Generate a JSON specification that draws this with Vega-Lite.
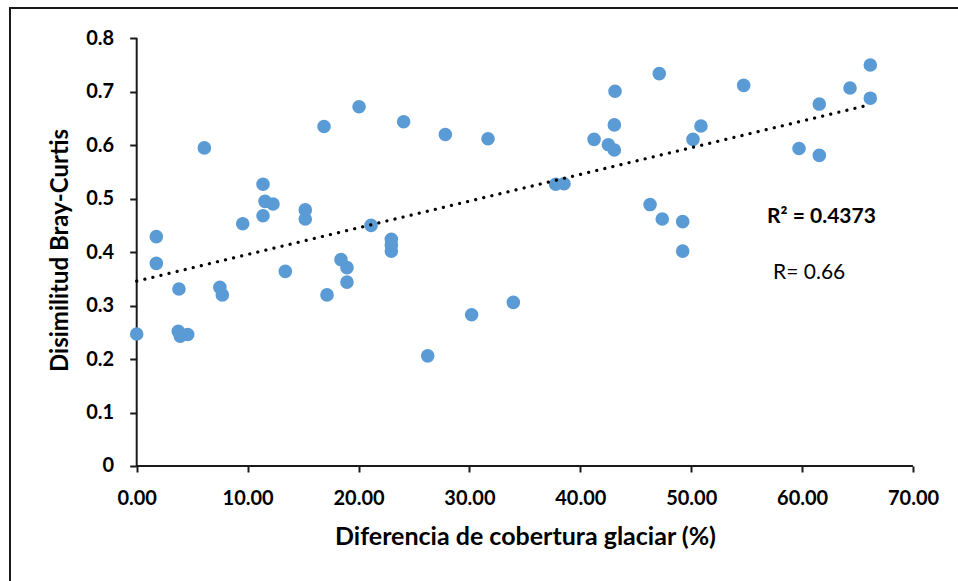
{
  "$schema": "https://vega.github.io/schema/vega-lite/v6.json",
  "autosize": {"type": "none"},
  "padding": {"left": 10, "top": 8, "right": -22, "bottom": -19},
  "width": 970,
  "height": 592,
  "background": "white",
  "config": {
    "font": "Lato",
    "view": {"stroke": "#1a1a1a", "strokeWidth": 2},
    "axis": {
      "grid": false,
      "domain": false,
      "tickColor": "#1a1a1a",
      "tickWidth": 2,
      "labelColor": "#000000",
      "labelFont": "Lato",
      "labelFontWeight": "bold",
      "labelFontSize": 20,
      "titleColor": "#000000",
      "titleFont": "Lato",
      "titleFontWeight": "bold",
      "titleFontSize": 24
    }
  },
  "data": {
    "values": [
      {"cobertura": 0.0, "disimilitud": 0.247},
      {"cobertura": 1.77, "disimilitud": 0.429},
      {"cobertura": 1.77, "disimilitud": 0.379},
      {"cobertura": 3.75, "disimilitud": 0.252},
      {"cobertura": 3.81, "disimilitud": 0.331},
      {"cobertura": 3.93, "disimilitud": 0.243},
      {"cobertura": 4.6, "disimilitud": 0.246},
      {"cobertura": 6.1, "disimilitud": 0.595},
      {"cobertura": 7.5, "disimilitud": 0.334},
      {"cobertura": 7.72, "disimilitud": 0.32},
      {"cobertura": 9.56, "disimilitud": 0.453},
      {"cobertura": 11.39, "disimilitud": 0.527},
      {"cobertura": 11.57, "disimilitud": 0.495},
      {"cobertura": 12.29, "disimilitud": 0.49},
      {"cobertura": 11.39, "disimilitud": 0.468},
      {"cobertura": 13.4, "disimilitud": 0.364},
      {"cobertura": 15.2, "disimilitud": 0.479},
      {"cobertura": 15.2, "disimilitud": 0.462},
      {"cobertura": 16.89, "disimilitud": 0.635},
      {"cobertura": 17.16, "disimilitud": 0.32},
      {"cobertura": 18.42, "disimilitud": 0.386},
      {"cobertura": 18.96, "disimilitud": 0.371},
      {"cobertura": 18.96, "disimilitud": 0.344},
      {"cobertura": 20.05, "disimilitud": 0.672},
      {"cobertura": 21.13, "disimilitud": 0.45},
      {"cobertura": 22.96, "disimilitud": 0.424},
      {"cobertura": 22.96, "disimilitud": 0.413},
      {"cobertura": 22.96, "disimilitud": 0.402},
      {"cobertura": 24.07, "disimilitud": 0.644},
      {"cobertura": 26.24, "disimilitud": 0.206},
      {"cobertura": 27.83, "disimilitud": 0.62},
      {"cobertura": 30.2, "disimilitud": 0.283},
      {"cobertura": 31.68, "disimilitud": 0.612},
      {"cobertura": 33.96, "disimilitud": 0.306},
      {"cobertura": 37.78, "disimilitud": 0.527},
      {"cobertura": 38.53, "disimilitud": 0.528},
      {"cobertura": 41.24, "disimilitud": 0.611},
      {"cobertura": 42.53, "disimilitud": 0.601},
      {"cobertura": 43.07, "disimilitud": 0.591},
      {"cobertura": 43.07, "disimilitud": 0.638},
      {"cobertura": 43.13, "disimilitud": 0.701},
      {"cobertura": 46.29, "disimilitud": 0.489},
      {"cobertura": 47.12, "disimilitud": 0.734},
      {"cobertura": 47.39, "disimilitud": 0.462},
      {"cobertura": 49.23, "disimilitud": 0.457},
      {"cobertura": 49.23, "disimilitud": 0.402},
      {"cobertura": 50.16, "disimilitud": 0.611},
      {"cobertura": 50.88, "disimilitud": 0.636},
      {"cobertura": 54.73, "disimilitud": 0.712},
      {"cobertura": 59.72, "disimilitud": 0.594},
      {"cobertura": 61.55, "disimilitud": 0.581},
      {"cobertura": 61.55, "disimilitud": 0.677},
      {"cobertura": 64.32, "disimilitud": 0.707},
      {"cobertura": 66.15, "disimilitud": 0.75},
      {"cobertura": 66.15, "disimilitud": 0.688}
    ]
  },
  "encoding": {
    "x": {
      "field": "cobertura",
      "type": "quantitative",
      "title": "Diferencia de cobertura glaciar (%)",
      "scale": {"domain": [-11.425, 76.04], "nice": false, "zero": false},
      "axis": {
        "orient": "bottom",
        "offset": -134,
        "values": [0, 10, 20, 30, 40, 50, 60, 70],
        "format": ".2f",
        "tickSize": 6,
        "labelPadding": 16,
        "titlePadding": 16,
        "titleFontSize": 25,
        "titleX": 515
      }
    },
    "y": {
      "field": "disimilitud",
      "type": "quantitative",
      "title": "Disimilitud Bray-Curtis",
      "scale": {"domain": [-0.2507, 0.8567], "nice": false, "zero": false},
      "axis": {
        "orient": "left",
        "offset": -126.7,
        "values": [0, 0.1, 0.2, 0.3, 0.4, 0.5, 0.6, 0.7, 0.8],
        "format": ".1~f",
        "tickSize": 7,
        "labelPadding": 16,
        "titlePadding": 13,
        "titleY": 242
      }
    }
  },
  "layer": [
    {
      "transform": [
        {"window": [{"op": "row_number", "as": "fila"}]},
        {"filter": "datum.fila == 1"}
      ],
      "mark": {"type": "rule", "color": "#1a1a1a", "strokeWidth": 2},
      "encoding": {
        "x": {"datum": 0, "type": "quantitative"},
        "x2": {"datum": 70},
        "y": {"datum": 0, "type": "quantitative"}
      }
    },
    {
      "transform": [
        {"window": [{"op": "row_number", "as": "fila"}]},
        {"filter": "datum.fila == 1"}
      ],
      "mark": {"type": "rule", "color": "#1a1a1a", "strokeWidth": 2},
      "encoding": {
        "x": {"datum": 0, "type": "quantitative"},
        "y": {"datum": 0, "type": "quantitative"},
        "y2": {"datum": 0.8}
      }
    },
    {
      "mark": {"type": "point", "filled": true, "opacity": 1, "size": 185, "color": "#5B9BD5"}
    },
    {
      "transform": [{"regression": "disimilitud", "on": "cobertura"}],
      "mark": {"type": "line", "color": "#000000", "strokeWidth": 3.2, "strokeDash": [0.1, 8.2], "strokeCap": "round"}
    },
    {
      "transform": [
        {"window": [{"op": "row_number", "as": "fila"}]},
        {"filter": "datum.fila == 1"}
      ],
      "mark": {"type": "text", "align": "left", "baseline": "middle", "fontSize": 21, "fontWeight": "bold", "color": "#000000"},
      "encoding": {
        "x": {"datum": 56.84, "type": "quantitative"},
        "y": {"datum": 0.4658, "type": "quantitative"},
        "text": {"value": "R² = 0.4373"}
      }
    },
    {
      "transform": [
        {"window": [{"op": "row_number", "as": "fila"}]},
        {"filter": "datum.fila == 1"}
      ],
      "mark": {"type": "text", "align": "left", "baseline": "middle", "fontSize": 21, "color": "#000000"},
      "encoding": {
        "x": {"datum": 57.38, "type": "quantitative"},
        "y": {"datum": 0.361, "type": "quantitative"},
        "text": {"value": "R= 0.66"}
      }
    }
  ]
}
